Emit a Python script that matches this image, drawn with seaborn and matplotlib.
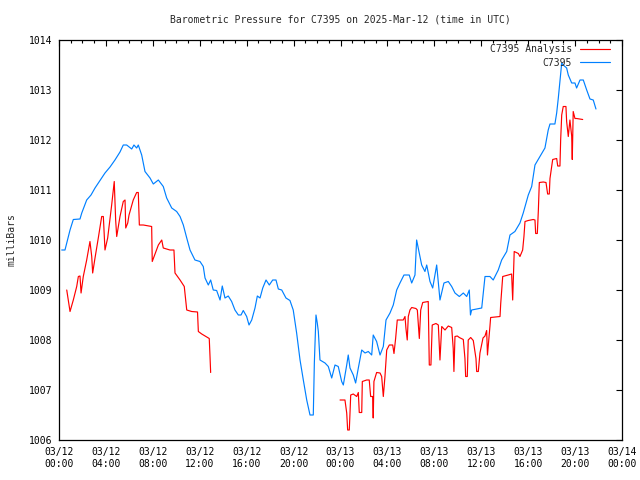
import pandas as pd
import matplotlib
matplotlib.use('Agg')
import matplotlib.pyplot as plt
import matplotlib.dates as mdates
from matplotlib.lines import Line2D
import seaborn as sns

# 観測値 C7395 (hours since 03/12 00:00 UTC, mb)
obs_hours = [0.23, 0.51, 0.94, 1.22, 1.79, 1.94, 2.36, 2.73, 3.07, 3.35, 3.92, 4.35, 4.77, 5.20,
             5.48, 5.77, 6.20, 6.39, 6.62, 6.76, 7.05, 7.33, 7.76, 8.04, 8.47, 8.89, 9.18, 9.61,
             10.03, 10.32, 10.60, 10.89, 11.17, 11.59, 12.02, 12.30, 12.45, 12.73, 12.93, 13.15,
             13.44, 13.73, 13.92, 14.15, 14.43, 14.72, 15.00, 15.29, 15.52, 15.71, 16.00, 16.20,
             16.43, 16.71, 16.91, 17.14, 17.37, 17.65, 17.93, 18.22, 18.50, 18.70, 18.99, 19.35,
             19.69, 19.97, 20.26, 20.55, 20.83, 21.12, 21.40, 21.68, 21.77, 21.91, 22.02, 22.11,
             22.25, 22.68, 22.96, 23.25, 23.53, 23.81, 24.10, 24.24, 24.53, 24.66, 24.81, 25.09,
             25.29, 25.52, 25.81, 26.09, 26.37, 26.66, 26.79, 27.08, 27.37, 27.65, 27.88, 28.22,
             28.50, 28.79, 29.07, 29.41, 29.86, 30.07, 30.35, 30.49, 30.66, 30.92, 31.20, 31.35,
             31.63, 31.86, 32.20, 32.48, 32.82, 33.19, 33.48, 33.76, 34.13, 34.47, 34.76, 34.98,
             35.08, 35.18, 36.04, 36.32, 36.74, 37.02, 37.45, 37.74, 38.17, 38.45, 38.87, 39.30,
             39.58, 40.01, 40.30, 40.58, 41.01, 41.43, 41.71, 41.86, 42.28, 42.43, 42.57, 42.86,
             42.99, 43.28, 43.42, 43.71, 43.99, 44.13, 44.42, 44.70, 44.99, 45.27, 45.55, 45.78]
obs_mb = [1009.80, 1009.80, 1010.20, 1010.41, 1010.42, 1010.54, 1010.80, 1010.90, 1011.04, 1011.14,
          1011.34, 1011.46, 1011.60, 1011.76, 1011.90, 1011.90, 1011.82, 1011.90, 1011.84, 1011.90,
          1011.70, 1011.37, 1011.24, 1011.12, 1011.20, 1011.07, 1010.84, 1010.64, 1010.57, 1010.47,
          1010.30, 1010.04, 1009.80, 1009.60, 1009.57, 1009.47, 1009.24, 1009.10, 1009.20, 1009.00,
          1008.99, 1008.80, 1009.08, 1008.84, 1008.88, 1008.77, 1008.60, 1008.50, 1008.50, 1008.59,
          1008.47, 1008.30, 1008.40, 1008.64, 1008.88, 1008.84, 1009.04, 1009.20, 1009.10, 1009.20,
          1009.20, 1009.02, 1009.00, 1008.84, 1008.79, 1008.60, 1008.14, 1007.60, 1007.20, 1006.80,
          1006.50, 1006.50, 1007.54, 1008.50, 1008.34, 1008.17, 1007.60, 1007.54, 1007.47, 1007.24,
          1007.50, 1007.47, 1007.17, 1007.10, 1007.50, 1007.70, 1007.44, 1007.30, 1007.14, 1007.44,
          1007.80, 1007.74, 1007.77, 1007.70, 1008.10, 1007.97, 1007.70, 1007.87, 1008.40, 1008.54,
          1008.70, 1009.00, 1009.14, 1009.30, 1009.30, 1009.14, 1009.30, 1010.00, 1009.80, 1009.50,
          1009.37, 1009.50, 1009.17, 1009.04, 1009.50, 1008.80, 1009.14, 1009.17, 1009.07, 1008.94,
          1008.87, 1008.94, 1008.87, 1009.00, 1008.50, 1008.60, 1008.64, 1009.27, 1009.27, 1009.20,
          1009.40, 1009.60, 1009.77, 1010.10, 1010.17, 1010.34, 1010.54, 1010.90, 1011.07, 1011.50,
          1011.67, 1011.84, 1012.20, 1012.32, 1012.32, 1012.54, 1012.84, 1013.54, 1013.50, 1013.44,
          1013.30, 1013.14, 1013.14, 1013.04, 1013.20, 1013.20, 1013.00, 1012.82, 1012.80, 1012.62]

# 解析値 C7395 Analysis: 2 segments (gap 13h - 24h)
ana1_hours = [0.66, 0.79, 0.94, 1.22, 1.51, 1.65, 1.79, 1.88, 2.07, 2.36, 2.64, 2.79, 2.87, 3.07,
              3.35, 3.64, 3.78, 3.92, 4.15, 4.49, 4.71, 4.83, 4.92, 5.20, 5.48, 5.63, 5.69, 5.86,
              5.97, 6.33, 6.62, 6.76, 6.85, 7.19, 7.90, 7.95, 8.47, 8.76, 8.89, 9.46, 9.80, 9.89,
              10.32, 10.68, 10.89, 11.31, 11.81, 11.88, 12.17, 12.81, 12.87, 12.93]
ana1_mb = [1009.00, 1008.80, 1008.57, 1008.80, 1009.07, 1009.27, 1009.28, 1008.94, 1009.27, 1009.60,
           1009.97, 1009.67, 1009.34, 1009.64, 1010.04, 1010.47, 1010.47, 1009.80, 1010.04, 1010.70,
           1011.17, 1010.40, 1010.07, 1010.47, 1010.77, 1010.80, 1010.24, 1010.34, 1010.50, 1010.80,
           1010.95, 1010.95, 1010.30, 1010.30, 1010.27, 1009.57, 1009.90, 1010.00, 1009.84, 1009.80,
           1009.80, 1009.34, 1009.20, 1009.07, 1008.60, 1008.57, 1008.56, 1008.17, 1008.12, 1008.03,
           1007.70, 1007.35]
ana2_hours = [23.96, 24.38, 24.53, 24.61, 24.75, 24.81, 24.87, 25.09, 25.38, 25.52, 25.60, 25.81,
              25.86, 26.23, 26.45, 26.57, 26.74, 26.79, 26.85, 27.08, 27.37, 27.51, 27.65, 27.79,
              27.94, 28.16, 28.45, 28.56, 28.70, 28.84, 29.35, 29.50, 29.58, 29.69, 29.78, 29.92,
              30.07, 30.43, 30.55, 30.72, 30.84, 31.01, 31.48, 31.57, 31.71, 31.82, 32.14, 32.34,
              32.48, 32.63, 32.91, 33.19, 33.48, 33.61, 33.67, 33.76, 33.96, 34.13, 34.47, 34.61,
              34.67, 34.81, 34.89, 35.10, 35.32, 35.55, 35.61, 35.75, 35.89, 36.15, 36.32, 36.46,
              36.53, 36.74, 36.80, 37.60, 37.66, 37.83, 38.30, 38.59, 38.68, 38.81, 39.16, 39.30,
              39.53, 39.64, 39.73, 40.01, 40.43, 40.58, 40.64, 40.78, 40.87, 40.95, 41.29, 41.52,
              41.66, 41.80, 41.86, 42.09, 42.43, 42.52, 42.71, 42.77, 42.86, 42.99, 43.22, 43.28,
              43.42, 43.56, 43.71, 43.76, 43.84, 43.99, 44.13, 44.65]
ana2_mb = [1006.80, 1006.80, 1006.54, 1006.20, 1006.20, 1006.54, 1006.90, 1006.92, 1006.87, 1006.95,
           1006.55, 1006.55, 1007.17, 1007.20, 1007.20, 1006.87, 1006.87, 1006.44, 1007.17, 1007.35,
           1007.34, 1007.27, 1006.87, 1007.27, 1007.80, 1007.90, 1007.90, 1007.73, 1008.03, 1008.40,
           1008.40, 1008.47, 1008.23, 1008.00, 1008.47, 1008.60, 1008.65, 1008.63, 1008.60, 1008.03,
           1008.60, 1008.75, 1008.77, 1007.50, 1007.50, 1008.30, 1008.33, 1008.30, 1007.60, 1008.27,
           1008.20, 1008.28, 1008.25, 1007.83, 1007.37, 1008.07, 1008.08, 1008.05, 1008.01, 1007.63,
           1007.27, 1007.27, 1008.00, 1008.05, 1007.99, 1007.63, 1007.37, 1007.37, 1007.74, 1008.04,
           1008.08, 1008.19, 1007.70, 1008.27, 1008.45, 1008.47, 1008.73, 1009.27, 1009.30, 1009.32,
           1008.80, 1009.77, 1009.73, 1009.67, 1009.80, 1010.07, 1010.37, 1010.39, 1010.41, 1010.40,
           1010.13, 1010.13, 1010.60, 1011.15, 1011.16, 1011.15, 1010.92, 1010.92, 1011.23, 1011.61,
           1011.63, 1011.48, 1011.48, 1012.00, 1012.50, 1012.67, 1012.67, 1012.37, 1012.07, 1012.40,
           1012.08, 1011.61, 1012.57, 1012.43, 1012.43, 1012.41]

start = pd.Timestamp('2025-03-12 00:00')
obs = pd.DataFrame({'hours': obs_hours, 'mb': obs_mb})
ana = pd.concat([pd.DataFrame({'hours': ana1_hours, 'mb': ana1_mb, 'seg': 1}),
                 pd.DataFrame({'hours': ana2_hours, 'mb': ana2_mb, 'seg': 2})])
obs['time'] = start + pd.to_timedelta(obs['hours'], unit='h')
ana['time'] = start + pd.to_timedelta(ana['hours'], unit='h')

RED = '#ff0000'
BLUE = '#0080ff'
LW = 0.85

sns.set_style('white')
plt.rcParams['font.family'] = ['DejaVu Sans Mono']
plt.rcParams['font.size'] = 7

fig = plt.figure(figsize=(6.4, 4.8), dpi=100)
ax = fig.add_axes([59 / 640, 40 / 480, 563 / 640, 400 / 480])

sns.lineplot(data=ana, x='time', y='mb', units='seg', estimator=None,
             color=RED, linewidth=LW, ax=ax)
sns.lineplot(data=obs, x='time', y='mb', color=BLUE, linewidth=LW, ax=ax)

ax.set_xlim(start, start + pd.Timedelta(hours=48))
ax.set_ylim(1006, 1014)
ax.set_yticks(range(1006, 1015))
ax.xaxis.set_major_locator(mdates.HourLocator(byhour=range(0, 24, 4)))
ax.xaxis.set_minor_locator(mdates.HourLocator(interval=1))
ax.xaxis.set_major_formatter(mdates.DateFormatter('%m/%d\n%H:%M'))

ax.tick_params(which='both', direction='in', top=True, right=True, colors='black',
               labelsize=7, pad=5)
ax.tick_params(which='major', length=4.5, width=0.8)
ax.tick_params(which='minor', length=2.5, width=0.8)
for s in ax.spines.values():
    s.set_color('black')
    s.set_linewidth(0.9)

ax.set_xlabel('')
ax.set_ylabel('milliBars', fontsize=7, labelpad=9)
fig.text(340 / 640, 1 - 19 / 480, 'Barometric Pressure for C7395 on 2025-Mar-12 (time in UTC)',
         ha='center', va='center', fontsize=7)

handles = [Line2D([], [], color=RED, lw=LW), Line2D([], [], color=BLUE, lw=LW)]
ax.legend(handles, ['C7395 Analysis', 'C7395'], loc='upper right', frameon=False,
          markerfirst=False, handlelength=3.1, handletextpad=0.8, labelspacing=0.4,
          borderpad=0, borderaxespad=0, bbox_to_anchor=(1 - 12 / 563, 1 - 4 / 400), fontsize=7)

fig.savefig('out.png', dpi=100)
